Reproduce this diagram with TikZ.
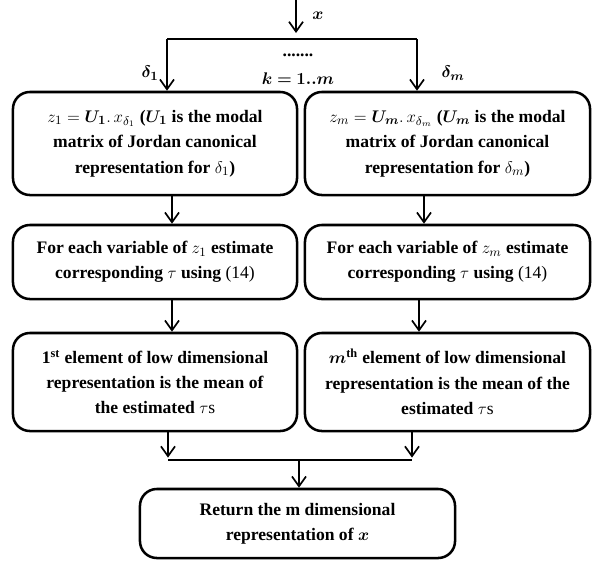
\documentclass[tikz,border=0pt]{standalone}
\usepackage{fontspec}
\setmainfont{Liberation Serif}
\usepackage{amsmath}
\usepackage{bm}
\usetikzlibrary{arrows.meta}

\tikzset{
	procbox/.style={draw, line width=1.8pt, rounded corners=12pt, align=center, inner sep=2pt, font=\bfseries\fontsize{12.5}{18}\selectfont},
	flow/.style={line width=1.2pt, -{Straight Barb[length=7pt,width=10pt]}},
	link/.style={line width=1.2pt},
	lbl/.style={font=\fontsize{12.5}{15}\selectfont}
}

\begin{document}
\begin{tikzpicture}[x=0.025cm, y=-0.025cm]
		%%%%% START %%%%%
		\useasboundingbox (0, 0) rectangle (592, 560);
		
		% first row
		\node[procbox, minimum width=7.1cm, minimum height=2.575cm] (b1l) at (155, 143.5)
			{$z_1 = \bm{U_1}.\,x_{\delta_1}$ ($\bm{U_1}$ is the modal\\ matrix of Jordan canonical\\ representation for $\delta_1$)};
		\node[procbox, minimum width=7.125cm, minimum height=2.575cm] (b1r) at (447.5, 143.5)
			{$z_m = \bm{U_m}.\,x_{\delta_m}$ ($\bm{U_m}$ is the modal\\ matrix of Jordan canonical\\ representation for $\delta_m$)};
		
		% second row
		\node[procbox, minimum width=7.1cm, minimum height=1.85cm] (b2l) at (155, 262)
			{For each variable of $z_1$ estimate\\ corresponding $\tau$ using \textmd{(14)}};
		\node[procbox, minimum width=7.125cm, minimum height=1.85cm] (b2r) at (447.5, 262)
			{For each variable of $z_m$ estimate\\ corresponding $\tau$ using \textmd{(14)}};
		
		% third row
		\node[procbox, minimum width=7.1cm, minimum height=2.45cm] (b3l) at (155, 382)
			{1\textsuperscript{st} element of low dimensional\\ representation is the mean of\\ the estimated $\tau\mathrm{s}$};
		\node[procbox, minimum width=7.125cm, minimum height=2.45cm] (b3r) at (447.5, 382)
			{$\bm{m}$\textsuperscript{th} element of low dimensional\\ representation is the mean of the\\ estimated $\tau\mathrm{s}$};
		
		% result
		\node[procbox, minimum width=7.875cm, minimum height=1.725cm] (b4) at (297.5, 523.5)
			{Return the m dimensional\\ representation of $\bm{x}$};
		
		% input and split
		\coordinate (xin) at (296, 0);
		\coordinate (xend) at (296, 33);
		\coordinate (splitL) at (167, 39);
		\coordinate (splitR) at (417, 39);
		\draw[flow] (xin) -- (xend);
		\draw[link] (splitL) -- (splitR);
		\draw[flow] (splitL) -- (splitL |- b1l.north);
		\draw[flow] (splitR) -- (splitR |- b1r.north);
		
		\node[lbl] (xlab) at (318, 16) {$\bm{x}$};
		\node[lbl] (d1lab) at (150, 73) {$\bm{\delta_1}$};
		\node[lbl] (dmlab) at (453, 73) {$\bm{\delta_m}$};
		\node[lbl] (dots) at (298, 55) {\textbf{.......}};
		\node[lbl] (klab) at (298, 79) {$\bm{k = 1..m}$};
		
		% down the columns
		\draw[flow] ([xshift=0.425cm]b1l.south) -- ([xshift=0.425cm]b2l.north);
		\draw[flow] ([xshift=-0.5875cm]b1r.south) -- ([xshift=-0.5875cm]b2r.north);
		\draw[flow] ([xshift=0.425cm]b2l.south) -- ([xshift=0.425cm]b3l.north);
		\draw[flow] ([xshift=-0.7125cm]b2r.south) -- ([xshift=-0.7125cm]b3r.north);
		
		% merge
		\coordinate (mergeL) at (168, 460);
		\coordinate (mergeR) at (412, 460);
		\coordinate (mergeC) at (299, 460);
		\draw[flow] (b3l.south -| mergeL) -- ([yshift=0.06cm]mergeL);
		\draw[flow] (b3r.south -| mergeR) -- ([yshift=0.06cm]mergeR);
		\draw[link] (mergeL) -- (mergeR);
		\draw[flow] (mergeC) -- (mergeC |- b4.north);
		
		%%%%% END %%%%%
	\end{tikzpicture}
\end{document}
